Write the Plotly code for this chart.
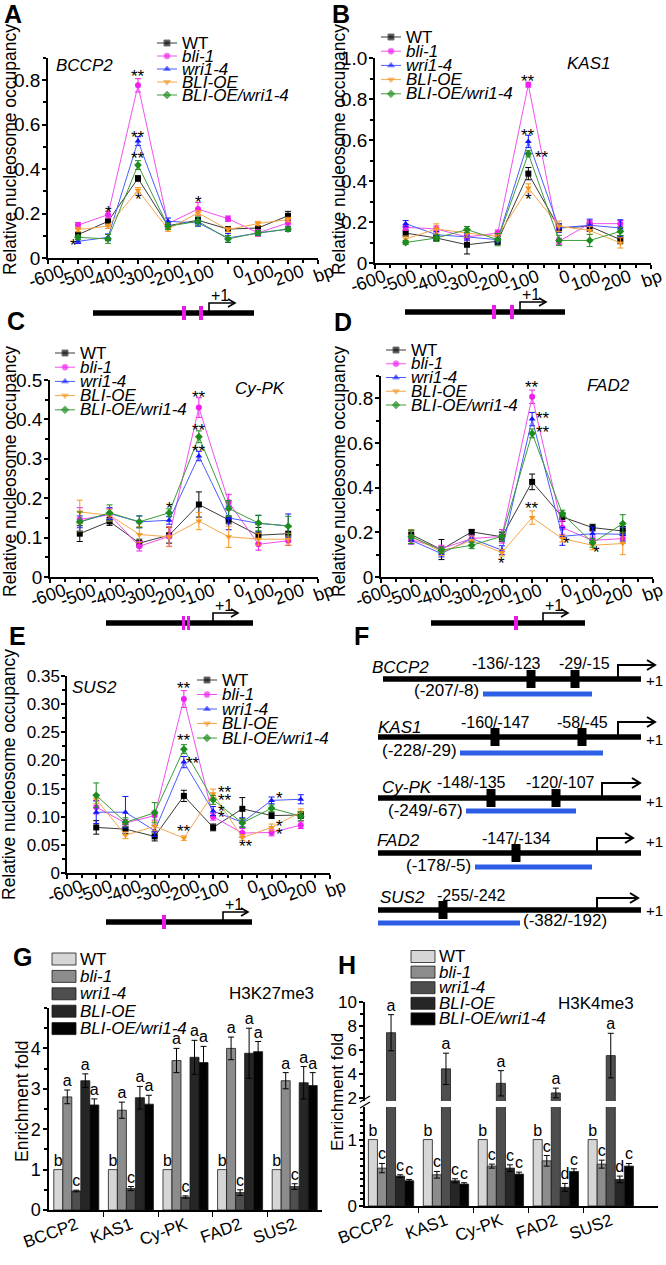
import plotly.graph_objects as go

FONT = "Liberation Sans, Arial, Helvetica, sans-serif"
FIG_W, FIG_H = 666, 1265

# ============================ data ============================
positions = [-500, -400, -300, -200, -100, 0, 100, 200]
genotypes = ["WT", "bli-1", "wri1-4", "BLI-OE", "BLI-OE/wri1-4"]
bp_tick_vals = [-600, -500, -400, -300, -200, -100, 0, 100, 200, 300]
bp_tick_text = ["-600", "-500", "-400", "-300", "-200", "-100", "0", "100", "200", "bp"]

# ---- A  BCCP2 (rows follow `genotypes`)
bccp2_mean = [
    [0.105, 0.165, 0.358, 0.145, 0.170, 0.130, 0.135, 0.190],
    [0.148, 0.195, 0.777, 0.155, 0.220, 0.177, 0.113, 0.158],
    [0.075, 0.093, 0.526, 0.165, 0.158, 0.090, 0.112, 0.130],
    [0.128, 0.143, 0.305, 0.130, 0.203, 0.128, 0.155, 0.173],
    [0.093, 0.086, 0.418, 0.143, 0.165, 0.086, 0.113, 0.130],
]
bccp2_err = [
    [0.010, 0.010, 0.012, 0.010, 0.012, 0.010, 0.010, 0.020],
    [0.012, 0.015, 0.030, 0.010, 0.030, 0.012, 0.015, 0.015],
    [0.010, 0.015, 0.020, 0.015, 0.015, 0.020, 0.010, 0.010],
    [0.010, 0.010, 0.012, 0.010, 0.010, 0.010, 0.010, 0.010],
    [0.010, 0.020, 0.020, 0.015, 0.020, 0.015, 0.010, 0.010],
]
bccp2_stars = [(-300, 0.83, "**"), (-300, 0.555, "**"), (-300, 0.46, "**"),
               (-300, 0.275, "*"), (-400, 0.22, "*"), (-100, 0.265, "*"), (-515, 0.07, "*")]
bccp2_yticks = [0, 0.2, 0.4, 0.6, 0.8]
bccp2_ytext = ["0", "0.2", "0.4", "0.6", "0.8"]

# ---- B  KAS1
kas1_mean = [
    [0.146, 0.122, 0.089, 0.106, 0.436, 0.171, 0.179, 0.114],
    [0.174, 0.166, 0.127, 0.146, 0.870, 0.106, 0.192, 0.192],
    [0.192, 0.138, 0.127, 0.114, 0.593, 0.171, 0.184, 0.171],
    [0.117, 0.166, 0.146, 0.130, 0.366, 0.179, 0.159, 0.098],
    [0.100, 0.122, 0.163, 0.114, 0.533, 0.110, 0.110, 0.154],
]
kas1_err = [
    [0.015, 0.015, 0.045, 0.015, 0.030, 0.020, 0.020, 0.020],
    [0.015, 0.015, 0.015, 0.015, 0.012, 0.015, 0.015, 0.015],
    [0.015, 0.015, 0.015, 0.015, 0.030, 0.020, 0.030, 0.040],
    [0.015, 0.025, 0.020, 0.015, 0.020, 0.025, 0.020, 0.025],
    [0.010, 0.015, 0.015, 0.030, 0.015, 0.025, 0.030, 0.020],
]
kas1_stars = [(-100, 0.90, "**"), (-100, 0.635, "**"), (-55, 0.53, "**"), (-100, 0.325, "*")]
kas1_yticks = [0, 0.2, 0.4, 0.6, 0.8, 1.0]
kas1_ytext = ["0", "0.2", "0.4", "0.6", "0.8", "1.0"]

# ---- C  Cy-PK
cypk_mean = [
    [0.110, 0.141, 0.086, 0.106, 0.184, 0.145, 0.106, 0.110],
    [0.146, 0.158, 0.078, 0.103, 0.430, 0.190, 0.083, 0.092],
    [0.140, 0.161, 0.140, 0.144, 0.307, 0.150, 0.136, 0.130],
    [0.165, 0.157, 0.108, 0.102, 0.142, 0.102, 0.096, 0.096],
    [0.140, 0.163, 0.140, 0.163, 0.356, 0.174, 0.137, 0.129],
]
cypk_err = [
    [0.020, 0.010, 0.010, 0.020, 0.032, 0.010, 0.020, 0.020],
    [0.030, 0.015, 0.012, 0.025, 0.025, 0.020, 0.015, 0.012],
    [0.015, 0.015, 0.015, 0.010, 0.012, 0.030, 0.020, 0.030],
    [0.030, 0.015, 0.020, 0.025, 0.022, 0.027, 0.015, 0.015],
    [0.025, 0.020, 0.015, 0.010, 0.015, 0.020, 0.020, 0.025],
]
cypk_stars = [(-100, 0.462, "**"), (-100, 0.38, "**"), (-100, 0.326, "**"), (-200, 0.182, "*")]
cypk_yticks = [0, 0.1, 0.2, 0.3, 0.4, 0.5]
cypk_ytext = ["0", "0.1", "0.2", "0.3", "0.4", "0.5"]

# ---- D  FAD2
fad2_mean = [
    [0.190, 0.123, 0.202, 0.180, 0.426, 0.269, 0.221, 0.206],
    [0.167, 0.127, 0.172, 0.182, 0.807, 0.221, 0.164, 0.172],
    [0.164, 0.105, 0.172, 0.120, 0.707, 0.182, 0.194, 0.191],
    [0.182, 0.112, 0.164, 0.109, 0.266, 0.172, 0.142, 0.150],
    [0.180, 0.120, 0.142, 0.182, 0.643, 0.284, 0.153, 0.239],
]
fad2_err = [
    [0.020, 0.045, 0.010, 0.020, 0.035, 0.020, 0.015, 0.020],
    [0.020, 0.015, 0.015, 0.030, 0.030, 0.030, 0.015, 0.020],
    [0.015, 0.015, 0.015, 0.020, 0.030, 0.040, 0.030, 0.030],
    [0.030, 0.015, 0.020, 0.015, 0.030, 0.015, 0.020, 0.050],
    [0.030, 0.015, 0.015, 0.020, 0.020, 0.015, 0.020, 0.040],
]
fad2_stars = [(-100, 0.86, "**"), (-65, 0.725, "**"), (-65, 0.66, "**"), (-100, 0.32, "**"),
              (-200, 0.072, "*"), (15, 0.165, "*"), (112, 0.122, "*")]
fad2_yticks = [0, 0.2, 0.4, 0.6, 0.8]
fad2_ytext = ["0", "0.2", "0.4", "0.6", "0.8"]

# ---- E  SUS2
sus2_mean = [
    [0.081, 0.078, 0.065, 0.137, 0.081, 0.114, 0.102, 0.103],
    [0.117, 0.089, 0.102, 0.309, 0.100, 0.071, 0.072, 0.085],
    [0.108, 0.108, 0.075, 0.197, 0.110, 0.090, 0.129, 0.131],
    [0.131, 0.067, 0.083, 0.062, 0.141, 0.063, 0.081, 0.108],
    [0.138, 0.090, 0.107, 0.220, 0.130, 0.089, 0.115, 0.101],
]
sus2_err = [
    [0.012, 0.008, 0.008, 0.010, 0.006, 0.020, 0.005, 0.006],
    [0.012, 0.006, 0.008, 0.015, 0.006, 0.008, 0.006, 0.006],
    [0.020, 0.028, 0.010, 0.010, 0.008, 0.008, 0.006, 0.008],
    [0.008, 0.006, 0.008, 0.004, 0.008, 0.005, 0.006, 0.006],
    [0.022, 0.008, 0.018, 0.008, 0.008, 0.008, 0.006, 0.008],
]
sus2_stars = [(-200, 0.333, "**"), (-200, 0.24, "**"), (-168, 0.20, "**"), (-200, 0.079, "**"),
              (-59, 0.149, "**"), (-59, 0.135, "**"), (-73, 0.114, "*"), (-73, 0.104, "*"),
              (13, 0.052, "**"), (127, 0.137, "*"), (127, 0.088, "*"), (127, 0.074, "*")]
sus2_yticks = [0, 0.05, 0.10, 0.15, 0.20, 0.25, 0.30, 0.35]
sus2_ytext = ["0", "0.05", "0.10", "0.15", "0.20", "0.25", "0.30", "0.35"]

# ---- G / H  ChIP enrichment
chip_genes = ["BCCP2", "KAS1", "Cy-PK", "FAD2", "SUS2"]
h3k27_mean = [
    [1.0, 1.0, 1.0, 1.0, 1.0],
    [2.80, 2.47, 3.70, 4.00, 3.20],
    [0.47, 0.53, 0.32, 0.43, 0.58],
    [3.20, 2.78, 3.78, 3.88, 3.15],
    [2.60, 2.62, 3.65, 3.92, 3.08],
]
h3k27_err = [
    [0, 0, 0, 0, 0],
    [0.17, 0.20, 0.30, 0.28, 0.20],
    [0.02, 0.05, 0.03, 0.07, 0.07],
    [0.17, 0.28, 0.42, 0.62, 0.40],
    [0.15, 0.22, 0.40, 0.25, 0.32],
]
h3k27_letters = [["b"] * 5, ["a"] * 5, ["c"] * 5, ["a"] * 5, ["a"] * 5]
h3k27_yticks = [0, 1, 2, 3, 4]

h3k4_mean = [
    [1.0, 1.0, 1.0, 1.0, 1.0],
    [0.57, 0.47, 0.60, 0.68, 0.63],
    [7.45, 4.45, 3.25, 2.45, 5.55],
    [0.45, 0.38, 0.57, 0.28, 0.40],
    [0.38, 0.33, 0.48, 0.52, 0.60],
]
h3k4_err = [
    [0, 0, 0, 0, 0],
    [0.07, 0.05, 0.03, 0.08, 0.06],
    [1.50, 1.30, 1.05, 0.40, 1.85],
    [0.02, 0.03, 0.05, 0.06, 0.05],
    [0.02, 0.02, 0.03, 0.04, 0.04],
]
h3k4_letters = [["b"] * 5, ["c"] * 5, ["a"] * 5, ["c", "c", "c", "d", "d"], ["c"] * 5]
h3k4_low_ticks = [0, 1]
h3k4_high_ticks = [2, 4, 6, 8, 10]

# ---- F  promoter schematics (text labels)
f_genes = ["BCCP2", "KAS1", "Cy-PK", "FAD2", "SUS2"]
f_motif_labels = [["-136/-123", "-29/-15"], ["-160/-147", "-58/-45"], ["-148/-135", "-120/-107"],
                  ["-147/-134"], ["-255/-242"]]
f_region_labels = ["(-207/-8)", "(-228/-29)", "(-249/-67)", "(-178/-5)", "(-382/-192)"]

# ============================ styling ============================
mk_colors = ["#000000", "#f01ef0", "#1414ff", "#f7961e", "#1e8c1e"]
ln_colors = ["#3a3a3a", "#f050f0", "#4a5cff", "#f5a84a", "#3c9c3c"]
symbols = ["square", "circle", "triangle-up", "triangle-down", "diamond"]
bar_colors = ["#d6d6d6", "#8c8c8c", "#4e4e4e", "#262626", "#030303"]


def names(n):
    s = "" if n == 1 else str(n)
    return "xaxis" + s, "yaxis" + s, "x" + s, "y" + s


def dom_x(a, b):
    return [a / FIG_W, b / FIG_W]


def dom_y(top, bottom):
    return [1 - bottom / FIG_H, 1 - top / FIG_H]


def lab(g):
    return g if g == "WT" else "<i>%s</i>" % g


base_axis = dict(showline=True, linecolor="black", linewidth=1.5, showgrid=False, zeroline=False,
                 ticks="outside", ticklen=4, tickwidth=1.5, tickcolor="black", automargin=False,
                 ticklabeloverflow="allow",
                 tickfont=dict(family=FONT, size=19, color="black"), fixedrange=True)

fig = go.Figure()
layout = {}
ann = []
shapes = []

OV = ("x9", "y9")  # pixel overlay


def txt(x, y, s, size=17, xanchor="center", yanchor="middle", angle=0, bold=False, color="black"):
    if bold:
        s = "<b>%s</b>" % s
    ann.append(dict(x=x, y=y, xref=OV[0], yref=OV[1], text=s, showarrow=False, xanchor=xanchor,
                    yanchor=yanchor, textangle=angle, font=dict(family=FONT, size=size, color=color)))


def seg(x0, y0, x1, y1, color="black", width=1.5):
    shapes.append(dict(type="line", xref=OV[0], yref=OV[1], x0=x0, y0=y0, x1=x1, y1=y1,
                       line=dict(color=color, width=width), layer="above"))


def rect(x0, y0, x1, y1, color):
    shapes.append(dict(type="rect", xref=OV[0], yref=OV[1], x0=x0, y0=y0, x1=x1, y1=y1,
                       fillcolor=color, line=dict(width=0), layer="above"))


def path(d, width=1.5, color="black"):
    shapes.append(dict(type="path", xref=OV[0], yref=OV[1], path=d,
                       line=dict(color=color, width=width), layer="above"))


# ============================ line panels A-E ============================
line_panels = [
    dict(n=1, gene="BCCP2", mean=bccp2_mean, err=bccp2_err, stars=bccp2_stars, yt=bccp2_yticks,
         ytt=bccp2_ytext, yr=[0, 0.9], minor=0.1, xpx=(48, 318), ypx=(58, 258), tf=19, shift=14,
         gxy=(84, 65), leg=(157, 43, 13.0), title=(10, 150), letter=("A", 13, 14)),
    dict(n=2, gene="KAS1", mean=kas1_mean, err=kas1_err, stars=kas1_stars, yt=kas1_yticks,
         ytt=kas1_ytext, yr=[0, 1.0], minor=0.1, xpx=(375, 651), ypx=(58, 263), tf=19, shift=9,
         gxy=(588, 63), leg=(381, 37, 14.2), title=(339, 150), letter=("B", 341, 14)),
    dict(n=3, gene="Cy-PK", mean=cypk_mean, err=cypk_err, stars=cypk_stars, yt=cypk_yticks,
         ytt=cypk_ytext, yr=[0, 0.5], minor=0.05, xpx=(50, 318), ypx=(380, 577), tf=19, shift=14,
         gxy=(260, 388), leg=(55, 353, 14.2), title=(10, 472), letter=("C", 16, 321)),
    dict(n=4, gene="FAD2", mean=fad2_mean, err=fad2_err, stars=fad2_stars, yt=fad2_yticks,
         ytt=fad2_ytext, yr=[0, 0.9], minor=0.1, xpx=(381, 653), ypx=(376, 577), tf=19, shift=8,
         gxy=(608, 385), leg=(386, 350, 13.75), title=(339, 472), letter=("D", 343, 322)),
    dict(n=5, gene="SUS2", mean=sus2_mean, err=sus2_err, stars=sus2_stars, yt=sus2_yticks,
         ytt=sus2_ytext, yr=[0, 0.35], minor=0.025, xpx=(67, 330), ypx=(676, 873), tf=17, shift=14,
         gxy=(94, 687), leg=(197, 680, 14.5), title=(9, 775), letter=("E", 17, 636)),
]

for p in line_panels:
    xa, ya, xr, yr_ = names(p["n"])
    layout[xa] = dict(base_axis, domain=dom_x(*p["xpx"]), anchor=yr_, range=[-600, 300],
                      tickmode="array", tickvals=bp_tick_vals, ticktext=bp_tick_text, tickangle=-20,
                      ticklabelshift=p["shift"], ticklabelstandoff=-9,
                      tickfont=dict(family=FONT, size=18, color="black"),
                      minor=dict(dtick=50, tick0=0, ticks="outside", ticklen=3, tickcolor="black"))
    layout[ya] = dict(base_axis, domain=dom_y(*p["ypx"]), anchor=xr, range=p["yr"],
                      tickmode="array", tickvals=p["yt"], ticktext=p["ytt"], ticklabelstandoff=-2,
                      tickfont=dict(family=FONT, size=p["tf"], color="black"),
                      minor=dict(dtick=p["minor"], tick0=0, ticks="outside", ticklen=3, tickcolor="black"))
    for k, g in enumerate(genotypes):
        fig.add_trace(go.Scatter(
            x=positions, y=p["mean"][k], xaxis=xr, yaxis=yr_, mode="lines+markers", name=g,
            line=dict(color=ln_colors[k], width=1),
            marker=dict(symbol=symbols[k], size=6, color=mk_colors[k]),
            error_y=dict(type="data", array=p["err"][k], visible=True, color=mk_colors[k],
                         thickness=1, width=3),
            showlegend=False, cliponaxis=False))
    for (sx, sy, st) in p["stars"]:
        ann.append(dict(x=sx, y=sy, xref=xr, yref=yr_, text=st, showarrow=False, yshift=-3,
                        font=dict(family=FONT, size=17, color="black")))
    txt(p["gxy"][0], p["gxy"][1], "<i>%s</i>" % p["gene"], size=17)
    lx, ly, sp = p["leg"]
    for k, g in enumerate(genotypes):
        yy = ly + k * sp
        fig.add_trace(go.Scatter(x=[lx, lx + 10, lx + 20], y=[yy] * 3, xaxis=OV[0], yaxis=OV[1],
                                 mode="lines+markers", line=dict(color=ln_colors[k], width=1),
                                 marker=dict(symbol=symbols[k], size=[0, 6, 0], color=mk_colors[k]),
                                 showlegend=False, hoverinfo="skip"))
        txt(lx + 23, yy, lab(g), size=17, xanchor="left")
    txt(p["title"][0], p["title"][1], "Relative nucleosome occupancy", size=17.5, angle=-90)
    L, lxp, lyp = p["letter"]
    txt(lxp, lyp, L, size=25, bold=True)

# ---- gene schematics under A-E (line x0, x1, y, motif marks, mark width, TSS x, arrow end)
schemes = [
    (93, 254, 313, [184, 201], 4, 209, 235),
    (405, 565, 312, [494, 512], 4, 520, 546),
    (106, 253, 623, [183.5, 188.5], 3, 213, 238),
    (431, 585, 623, [516], 4, 543, 568),
    (106, 252, 922, [164], 4, 223, 248),
]
for x0, x1, y, marks, mw, tss, aend in schemes:
    seg(x0, y, x1, y, width=5.5)
    for m in marks:
        rect(m - mw / 2, y - 7, m + mw / 2, y + 7, "#e619e6")
    top = y - 10
    path("M %s,%s L %s,%s L %s,%s" % (tss, y - 2, tss, top, aend, top), width=1.6)
    path("M %s,%s L %s,%s L %s,%s" % (aend - 7, top - 4, aend, top, aend - 7, top + 4), width=1.6)
    txt(tss + 11, top + 3, "+1", size=16, yanchor="bottom")

# ============================ panel F ============================
txt(361, 636, "F", size=25, bold=True)
f_layout = [
    dict(y=679, gl=(370, 667), boxes=[531, 575], mlx=[506, 584], mly=663, tss=618, atop=665, aend=655,
         blue=(483, 592, 694), rl=(481, 690, "right"), p1=680),
    dict(y=737, gl=(376, 727), boxes=[495, 582], mlx=[495, 582], mly=722, tss=618, atop=722, aend=655,
         blue=(460, 603, 753), rl=(459, 750, "right"), p1=739),
    dict(y=798, gl=(380, 787), boxes=[491, 556], mlx=[471, 560], mly=782, tss=602, atop=783, aend=640,
         blue=(466, 576, 811), rl=(465, 810, "right"), p1=801),
    dict(y=853, gl=(375, 840), boxes=[516], mlx=[516], mly=838, tss=597, atop=838, aend=633,
         blue=(475, 592, 867), rl=(473, 865, "right"), p1=841),
    dict(y=910, gl=(378, 897), boxes=[443], mlx=[471], mly=895, tss=597, atop=898, aend=638,
         blue=(378, 520, 923), rl=(521, 920, "left"), p1=910),
]
for i, r in enumerate(f_layout):
    seg(378 if i else 383, r["y"], 641, r["y"], width=5.5)
    for bx in r["boxes"]:
        rect(bx - 4.5, r["y"] - 9, bx + 4.5, r["y"] + 9, "black")
    for lxp, s in zip(r["mlx"], f_motif_labels[i]):
        txt(lxp, r["mly"], s, size=16)
    txt(r["gl"][0], r["gl"][1], "<i>%s</i>" % f_genes[i], size=17, xanchor="left")
    path("M %s,%s L %s,%s L %s,%s" % (r["tss"], r["y"], r["tss"], r["atop"], r["aend"], r["atop"]), width=2)
    path("M %s,%s L %s,%s L %s,%s" % (r["aend"] - 8, r["atop"] - 5, r["aend"], r["atop"],
                                      r["aend"] - 8, r["atop"] + 5), width=2)
    txt(644, r["p1"], "+1", size=15, xanchor="left")
    bx0, bx1, by = r["blue"]
    seg(bx0, by, bx1, by, color="#2d5fe6", width=5)
    txt(r["rl"][0], r["rl"][1], f_region_labels[i], size=17, xanchor=r["rl"][2])

# ============================ bar panels G / H ============================
bar_axis_x = dict(base_axis, tickmode="array", tickvals=list(range(5)), ticktext=chip_genes,
                  ticks="", tickangle=-20, ticklabelstandoff=-3,
                  tickfont=dict(family=FONT, size=17, color="black"),
                  minor=dict(tickmode="array", tickvals=[0.5, 1.5, 2.5, 3.5], ticks="outside",
                             ticklen=5, tickcolor="black"))

layout["xaxis6"] = dict(bar_axis_x, domain=dom_x(49, 322), anchor="y6", range=[-0.5, 4.5])
layout["yaxis6"] = dict(base_axis, domain=dom_y(1008, 1210), anchor="x6", range=[0, 5],
                        tickmode="array", tickvals=h3k27_yticks, ticklabelstandoff=-1,
                        tickfont=dict(family=FONT, size=18, color="black"),
                        minor=dict(dtick=0.5, tick0=0, ticks="outside", ticklen=3, tickcolor="black"))
layout["xaxis7"] = dict(bar_axis_x, domain=dom_x(365, 658), anchor="y7", range=[-0.474, 4.86])
layout["yaxis7"] = dict(base_axis, domain=dom_y(1107, 1206), anchor="x7", range=[0, 1.49],
                        tickmode="array", tickvals=h3k4_low_ticks, ticklabelstandoff=-1,
                        tickfont=dict(family=FONT, size=17, color="black"),
                        minor=dict(dtick=0.1, tick0=0, ticks="outside", ticklen=3, tickcolor="black"))
layout["yaxis8"] = dict(base_axis, domain=dom_y(1002, 1101), anchor="x7", range=[1.78, 10],
                        tickmode="array", tickvals=h3k4_high_ticks, ticklabelstandoff=-1,
                        tickfont=dict(family=FONT, size=17, color="black"),
                        minor=dict(dtick=1, tick0=0, ticks="outside", ticklen=3, tickcolor="black"))

BW = 0.165


def add_bars(mean, err, letters, xr, yr_, also_axis=None):
    for k, g in enumerate(genotypes):
        xs = [i + (k - 2) * BW for i in range(5)]
        has_err = any(e > 0 for e in err[k])
        axes = [yr_] + ([also_axis] if (also_axis and k == 2) else [])
        for ya in axes:
            fig.add_trace(go.Bar(
                x=xs, y=mean[k], width=BW, xaxis=xr, yaxis=ya,
                marker=dict(color=bar_colors[k], line=dict(color="#1a1a1a", width=0.8)),
                error_y=dict(type="data", array=err[k], visible=has_err, color="black",
                             thickness=1, width=3),
                showlegend=False))
        la = also_axis if (also_axis and k == 2) else yr_
        fig.add_trace(go.Scatter(
            x=xs, y=[m + e for m, e in zip(mean[k], err[k])], xaxis=xr, yaxis=la, mode="text",
            text=letters[k], textposition="top center", cliponaxis=False,
            textfont=dict(family=FONT, size=16, color="black"), showlegend=False, hoverinfo="skip"))


add_bars(h3k27_mean, h3k27_err, h3k27_letters, "x6", "y6")
add_bars(h3k4_mean, h3k4_err, h3k4_letters, "x7", "y7", also_axis="y8")

for (bx, by, sp) in [(52, 959, 17.4), (411, 956.5, 15.6)]:
    for k, g in enumerate(genotypes):
        yy = by + k * sp
        shapes.append(dict(type="rect", xref=OV[0], yref=OV[1], x0=bx, x1=bx + 24, y0=yy - 6,
                           y1=yy + 6, fillcolor=bar_colors[k], line=dict(color="#1a1a1a", width=0.8)))
        txt(bx + 26, yy, lab(g), size=17, xanchor="left")

txt(271, 993, "H3K27me3", size=17)
txt(596, 1003, "H3K4me3", size=17)
txt(22, 957, "G", size=25, bold=True)
txt(347, 965, "H", size=25, bold=True)
txt(22, 1101, "Enrichment fold", size=17.5, angle=-90)
txt(337, 1092, "Enrichment fold", size=17, angle=-90)
rect(360, 1101.5, 371, 1106, "white")
seg(360, 1102, 370, 1096, width=1.2)
seg(360, 1108, 370, 1102, width=1.2)

layout["xaxis9"] = dict(domain=[0, 1], range=[0, FIG_W], visible=False, fixedrange=True,
                        anchor="y9", automargin=False)
layout["yaxis9"] = dict(domain=[0, 1], range=[FIG_H, 0], visible=False, fixedrange=True,
                        anchor="x9", automargin=False)

fig.update_layout(
    width=FIG_W, height=FIG_H,
    margin=dict(l=0, r=0, t=0, b=0, pad=0, autoexpand=False),
    paper_bgcolor="white", plot_bgcolor="rgba(0,0,0,0)", barmode="overlay",
    font=dict(family=FONT, color="black"), showlegend=False,
    annotations=ann, shapes=shapes, **layout)

fig.write_html("out.html", config={"responsive": False, "displayModeBar": False},
               post_script="document.body.style.margin='0';document.body.style.overflow='hidden';")
